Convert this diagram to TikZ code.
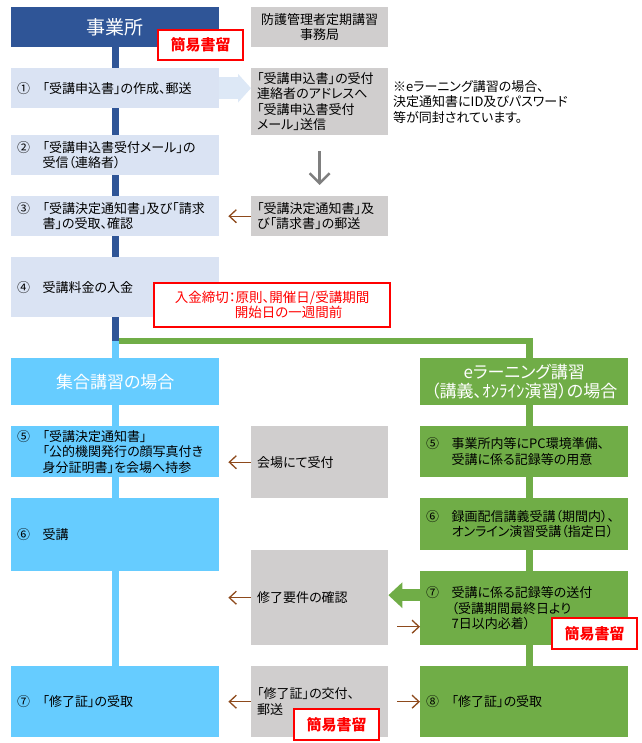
\documentclass[tikz,border=0pt]{standalone}
\usepackage{fontspec}
\setmainfont{Noto Sans CJK JP}[RawFeature=+palt]
\usetikzlibrary{arrows.meta,calc}
\pgfdeclarelayer{background}
\pgfsetlayers{background,main}
\definecolor{hdblue}{HTML}{2F5597}
\definecolor{ltblue}{HTML}{DAE3F3}
\definecolor{arrblue}{HTML}{DDE8F6}
\definecolor{boxgray}{HTML}{D0CECE}
\definecolor{cyanbox}{HTML}{66CCFF}
\definecolor{grbox}{HTML}{70AD47}
\definecolor{brarr}{HTML}{8E4A1C}
\definecolor{grarr}{HTML}{7F7F7F}
\newcommand\nm[1]{\makebox[25.5pt][l]{#1}}
\newcommand\ind{\hspace*{25.5pt}}
\begin{document}
\begin{tikzpicture}[x=1pt,y=-1pt,
  every node/.style={font=\fontsize{13}{15.5}\selectfont, inner ysep=0pt, inner xsep=6pt, align=left},
  bx/.style={anchor=north west, minimum height=#1},
  lb/.style={bx=#1, fill=ltblue, text width=196pt},
  gb/.style={bx=#1, fill=boxgray, text width=125pt},
  cb/.style={bx=#1, fill=cyanbox, text width=196pt},
  eb/.style={bx=#1, fill=grbox, text width=196pt},
  redbox/.style={draw=red, line width=2.2pt, fill=white, text=red, anchor=north west, inner sep=0pt},
  brarrow/.style={draw=brarr, line width=1.3pt, -{Straight Barb[length=7pt,width=13pt]}},
  vline/.style={line width=6.7pt},
]
\useasboundingbox (0,0) rectangle (641,743);
% header row
\node[bx=40pt, fill=hdblue, text width=196pt, align=center, text=white, font=\fontsize{19}{22}\selectfont] (hq) at (11,7) {事業所};
\node[gb=40pt, align=center] (ho) at (251,7) {防護管理者定期講習\\事務局};
% steps 1-4
\node[lb=40pt] (b1) at (11,68) {\nm{①}「受講申込書」の作成、郵送};
\node[gb=67pt] (g1) at (251,68) {「受講申込書」の受付\\連絡者のアドレスへ\\「受講申込書受付\\メール」送信};
\node[anchor=west, inner sep=0pt] (note) at (393,102) {※eラーニング講習の場合、\\決定通知書にID及びパスワード\\等が同封されています。};
\node[lb=40pt] (b2) at (11,135) {\nm{②}「受講申込書受付メール」の\\\ind 受信（連絡者）};
\node[lb=40pt] (b3) at (11,196) {\nm{③}「受講決定通知書」及び「請求\\\ind 書」の受取、確認};
\node[gb=40pt] (g3) at (251,196) {「受講決定通知書」及\\び「請求書」の郵送};
\node[lb=60pt] (b4) at (11,257) {\nm{④}受講料金の入金};
% section headers
\node[bx=47pt, fill=cyanbox, text width=196pt, align=center, text=white, font=\fontsize{17}{20}\selectfont] (sh) at (11,358) {集合講習の場合};
\node[bx=47pt, fill=grbox, text width=196pt, align=center, text=white, font=\fontsize{17}{19.5}\selectfont] (eh) at (420,358) {eラーニング講習\\（講義、ｵﾝﾗｲﾝ演習）の場合};
% row 5
\node[cb=51pt] (c5) at (11,426) {\nm{⑤}「受講決定通知書」\\\ind「公的機関発行の顔写真付き\\\ind 身分証明書」を会場へ持参};
\node[gb=72pt] (gk) at (251,426) {会場にて受付};
\node[eb=51pt] (e5) at (420,426) {\nm{⑤}事業所内等にPC環境準備、\\\ind 受講に係る記録等の用意};
% row 6
\node[cb=73pt] (c6) at (11,498) {\nm{⑥}受講};
\node[eb=52pt] (e6) at (420,498) {\nm{⑥}録画配信講義受講（期間内）、\\\ind オンライン演習受講（指定日）};
\node[gb=95pt] (gs) at (251,550) {修了要件の確認};
\node[eb=74pt] (e7) at (420,571) {\nm{⑦}受講に係る記録等の送付\\\ind（受講期間最終日より\\\ind 7日以内必着）};
% row 7
\node[cb=71pt] (c7) at (11,666) {\nm{⑦}「修了証」の受取};
\node[gb=71pt] (gc) at (251,666) {「修了証」の交付、\\郵送};
\node[eb=71pt] (e8) at (420,666) {\nm{⑧}「修了証」の受取};
% red labels
\node[redbox, minimum width=85pt, minimum height=30pt, align=center, font=\bfseries\fontsize{15}{18}\selectfont] (r1) at (157,29) {簡易書留};
\node[redbox, minimum width=236pt, minimum height=44pt, font=\fontsize{13.5}{15}\selectfont] (r2) at (153,282) {入金締切：原則、開催日/受講期間\\\hspace*{60pt}開始日の一週間前};
\node[redbox, minimum width=85pt, minimum height=31pt, align=center, font=\bfseries\fontsize{15}{18}\selectfont] (r3) at (551,617) {簡易書留};
\node[redbox, minimum width=85pt, minimum height=31pt, align=center, font=\bfseries\fontsize{15}{18}\selectfont] (r4) at (293,708) {簡易書留};
% flow lines
\begin{pgfonlayer}{background}
\coordinate (br) at (115.5,341);
\coordinate (ec) at (529.5,341);
\draw[grbox, vline, line width=6.5pt, line join=miter] (br) -- (ec) -- (ec |- e8.north);
\draw[hdblue, vline] (br |- hq.south) -- (br);
\draw[cyanbox, vline] (br) -- (br |- c7.north);
\end{pgfonlayer}
% arrows
\draw[arrblue, line width=22pt, -{Triangle[length=13pt,width=28pt]}] (b1.east) -- (b1.east -| g1.west);
\draw[grarr, line width=2.5pt, -{Straight Barb[length=10pt,width=20pt]}, shorten <=16pt, shorten >=11pt] (g1.south) -- (g3.north);
\draw[brarrow, shorten >=9pt] (g3.west) -- (g3.west -| b3.east);
\draw[brarrow, shorten >=9pt] (gk.west) -- (gk.west -| c5.east);
\draw[brarrow, shorten >=9pt] (gs.west) -- (gs.west -| c6.east);
\draw[grbox, line width=12pt, -{Triangle[length=14pt,width=25pt]}] ([yshift=13pt]e7.west) -- ([yshift=13pt]e7.west -| gs.east);
\draw[brarrow, shorten <=9pt] ([yshift=-29pt]gs.east) -- ([yshift=-29pt]gs.east -| e7.west);
\draw[brarrow, shorten >=9pt] (gc.west) -- (gc.west -| c7.east);
\draw[brarrow, shorten <=9pt] (gc.east) -- (gc.east -| e8.west);
\end{tikzpicture}
\end{document}
